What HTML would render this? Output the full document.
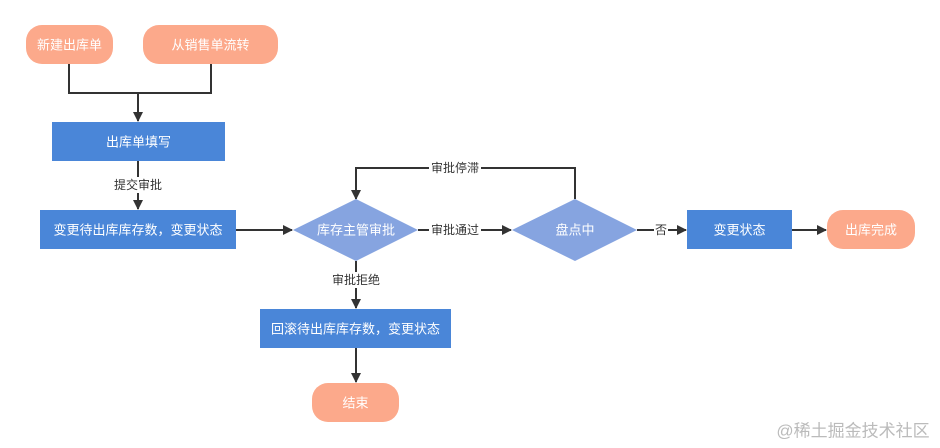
<!DOCTYPE html>
<html><head><meta charset="utf-8"><style>
body{margin:0;background:#fff;}
svg{display:block;font-family:"Liberation Sans","Noto Sans CJK SC",sans-serif;}
.w{fill:#fff;font-size:13px;text-anchor:middle;dominant-baseline:central;}
.l{fill:#333;font-size:12px;text-anchor:middle;dominant-baseline:central;}
</style></head><body>
<svg width="940" height="448" viewBox="0 0 940 448">
<defs><marker id="a" markerWidth="10" markerHeight="10" refX="9" refY="5" orient="auto" markerUnits="userSpaceOnUse"><path d="M0,0 L10,5 L0,10 z" fill="#333"/></marker></defs>
<g stroke="#333" stroke-width="2" fill="none">
<path d="M69,64 V93 H211 V64"/>
<path d="M138,93 V121" marker-end="url(#a)"/>
<path d="M138,161 V209" marker-end="url(#a)"/>
<path d="M236,230 H292" marker-end="url(#a)"/>
<path d="M575,199 V168 H356 V199" marker-end="url(#a)"/>
<path d="M418,230 H511" marker-end="url(#a)"/>
<path d="M637,230 H686" marker-end="url(#a)"/>
<path d="M792,230 H826" marker-end="url(#a)"/>
<path d="M356,261 V308" marker-end="url(#a)"/>
<path d="M356,348 V382" marker-end="url(#a)"/>
</g>
<rect x="26" y="25" width="87" height="39" rx="16" fill="#fca98b"/>
<text class="w" x="69.5" y="45">新建出库单</text>
<rect x="143" y="25" width="135" height="39" rx="16" fill="#fca98b"/>
<text class="w" x="210.5" y="45">从销售单流转</text>
<rect x="52" y="122" width="173" height="39" fill="#4a86d8"/>
<text class="w" x="138.5" y="142">出库单填写</text>
<rect x="113" y="177" width="50" height="16" fill="#fff"/>
<text class="l" x="138" y="185">提交审批</text>
<rect x="40" y="210" width="196" height="39" fill="#4a86d8"/>
<text class="w" x="138" y="230">变更待出库库存数，变更状态</text>
<polygon points="293,230 356,199 418,230 356,261" fill="#86a4e0"/>
<text class="w" x="356" y="230">库存主管审批</text>
<polygon points="512,230 575,199 637,230 575,261" fill="#86a4e0"/>
<text class="w" x="575" y="230">盘点中</text>
<rect x="429" y="160" width="52" height="16" fill="#fff"/>
<text class="l" x="455" y="168">审批停滞</text>
<rect x="429" y="222" width="52" height="16" fill="#fff"/>
<text class="l" x="455" y="230">审批通过</text>
<rect x="654" y="222" width="14" height="16" fill="#fff"/>
<text class="l" x="661" y="230">否</text>
<rect x="687" y="210" width="105" height="39" fill="#4a86d8"/>
<text class="w" x="739.5" y="230">变更状态</text>
<rect x="827" y="210" width="88" height="39" rx="16" fill="#fca98b"/>
<text class="w" x="871" y="230">出库完成</text>
<rect x="330" y="272" width="52" height="16" fill="#fff"/>
<text class="l" x="356" y="280">审批拒绝</text>
<rect x="260" y="309" width="191" height="39" fill="#4a86d8"/>
<text class="w" x="355.5" y="329">回滚待出库库存数，变更状态</text>
<rect x="312" y="383" width="87" height="39" rx="16" fill="#fca98b"/>
<text class="w" x="355.5" y="403">结束</text>
<text x="853" y="431" style="fill:#bbb;font-size:17px;text-anchor:middle;dominant-baseline:central;">@稀土掘金技术社区</text>
</svg>
</body></html>
